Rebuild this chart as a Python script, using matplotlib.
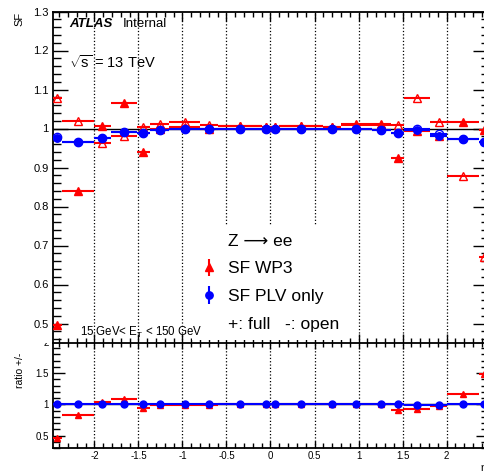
import numpy as np
import matplotlib
matplotlib.use('Agg')
import matplotlib.pyplot as plt
from matplotlib.ticker import MultipleLocator, FormatStrFormatter
from matplotlib.lines import Line2D
from matplotlib.patches import Rectangle

plt.rcParams['font.family'] = ['Liberation Sans', 'DejaVu Sans']
plt.rcParams['mathtext.fontset'] = 'custom'
plt.rcParams['mathtext.rm'] = 'Liberation Sans'
plt.rcParams['mathtext.it'] = 'Liberation Sans:italic'
plt.rcParams['axes.unicode_minus'] = False

# eta binning
eta_edges = [-2.47, -2.37, -2.01, -1.81, -1.52, -1.37, -1.15, -0.8, -0.6, -0.1, 0.0,
             0.1, 0.6, 0.8, 1.15, 1.37, 1.52, 1.81, 2.01, 2.37, 2.47]

# SF WP3 (red)  full = "+", open = "-"
wp3_full = [0.497, 0.841, 1.006, 1.066, 0.939, 1.000, 1.003, 1.000, 1.006, 1.003,
            1.003, 1.006, 1.005, 1.012, 1.012, 0.925, 0.993, 0.982, 1.016, 0.995]
wp3_open = [1.077, 1.020, 0.963, 0.982, 1.003, 1.012, 1.016, 1.010, 1.006, 1.003,
            1.003, 1.006, 1.005, 1.010, 1.010, 1.010, 1.079, 1.016, 0.877, 0.670]

# SF PLV only (blue)
plv_full = [0.975, 0.965, 0.976, 0.991, 0.988, 0.995, 0.999, 1.000, 1.000, 1.000,
            1.000, 1.000, 1.000, 1.000, 0.995, 0.988, 0.995, 0.982, 0.973, 0.965]
plv_open = [0.977, 0.965, 0.976, 0.991, 0.988, 0.995, 0.999, 1.000, 1.000, 1.000,
            1.000, 1.000, 1.000, 1.000, 0.995, 0.988, 1.000, 0.987, 0.973, 0.965]

edges = np.array(eta_edges)
centers = 0.5 * (edges[1:] + edges[:-1])
halfw = 0.5 * (edges[1:] - edges[:-1])

ratio_wp3 = np.array(wp3_full) / np.array(wp3_open)
ratio_plv = np.array(plv_full) / np.array(plv_open)

W, H = 485.0, 476.0
fig = plt.figure(figsize=(4.85, 4.76), dpi=100)

ax = fig.add_axes([53 / W, 1 - 343 / H, 435 / W, 331.5 / H], zorder=2)
rax = fig.add_axes([53 / W, 1 - 448 / H, 435 / W, 106 / H], zorder=0)
fig.patches.append(Rectangle((0, 1 - 343 / H), 1, 343 / H, transform=fig.transFigure,
                             facecolor='white', edgecolor='none', zorder=1))

# main pad
ax.errorbar(centers, wp3_full, xerr=halfw, fmt='^', color='red', ms=5.3,
            elinewidth=1.5, capsize=0, zorder=3)
ax.errorbar(centers, wp3_open, xerr=halfw, fmt='^', color='red', mfc='none', mec='red',
            mew=1.0, ms=6, elinewidth=1.5, capsize=0, zorder=3)
ax.errorbar(centers, plv_full, xerr=halfw, fmt='o', color='blue', ms=5.3,
            elinewidth=1.5, capsize=0, zorder=4)
ax.errorbar(centers, plv_open, xerr=halfw, fmt='o', color='blue', mfc='none', mec='blue',
            mew=1.0, ms=6, elinewidth=1.5, capsize=0, zorder=4)
ax.axhline(1.0, color='black', lw=1.0, zorder=2)

ax.set_xlim(-2.47, 2.47)
ax.set_ylim(0.45, 1.3)
ax.xaxis.set_major_locator(MultipleLocator(0.5))
ax.xaxis.set_minor_locator(MultipleLocator(0.1))
ax.yaxis.set_major_locator(MultipleLocator(0.1))
ax.yaxis.set_minor_locator(MultipleLocator(0.02))
ax.yaxis.set_major_formatter(FormatStrFormatter('%g'))
ax.grid(axis='x', which='major', linestyle=':', color='black', lw=0.9)
ax.set_axisbelow(True)
ax.tick_params(which='both', direction='in', top=True, right=True, labelbottom=False, width=1.0)
ax.tick_params(axis='y', which='major', length=10.8, labelsize=8, pad=3)
ax.tick_params(axis='y', which='minor', length=5.4)
ax.tick_params(axis='x', which='major', length=6.5)
ax.tick_params(axis='x', which='minor', length=3.3)
for s in ax.spines.values():
    s.set_linewidth(1.3)

# legend
h_head = Line2D([], [], linestyle='none')
h_wp3 = ax.errorbar([], [], yerr=[], fmt='^', color='red', ms=5.3, elinewidth=1.5, capsize=0)
h_plv = ax.errorbar([], [], yerr=[], fmt='o', color='blue', ms=5.3, elinewidth=1.5, capsize=0)
leg = ax.legend([h_head, h_wp3, h_plv, h_head],
                ['Z \u27f6 ee', 'SF WP3', 'SF PLV only', '+: full   -: open'],
                loc='upper left', bbox_to_anchor=(0.3184, 0.356), borderaxespad=0,
                fontsize=12.5, handlelength=1.0, handletextpad=0.6, labelspacing=0.72,
                borderpad=0.5, numpoints=1, frameon=True, fancybox=False,
                facecolor='white', edgecolor='none', framealpha=1.0)

# ratio pad
rax.errorbar(centers, ratio_wp3, xerr=halfw, fmt='^', color='red', ms=5,
             elinewidth=1.5, capsize=0, zorder=3)
rax.axhline(1.0, color='black', lw=1.0, zorder=2)
rax.errorbar(centers, ratio_plv, xerr=halfw, fmt='o', color='blue', ms=5,
             elinewidth=1.5, capsize=0, zorder=4)
rax.set_xlim(-2.47, 2.47)
rax.set_ylim(0.3, 2.0)
rax.xaxis.set_major_locator(MultipleLocator(0.5))
rax.xaxis.set_minor_locator(MultipleLocator(0.1))
rax.yaxis.set_major_locator(MultipleLocator(0.5))
rax.yaxis.set_minor_locator(MultipleLocator(0.1))
rax.xaxis.set_major_formatter(FormatStrFormatter('%g'))
rax.yaxis.set_major_formatter(FormatStrFormatter('%g'))
rax.grid(axis='x', which='major', linestyle=':', color='black', lw=0.9)
rax.set_axisbelow(True)
rax.tick_params(which='both', direction='in', top=True, right=True, width=1.0)
rax.tick_params(axis='y', which='major', length=8.6, labelsize=7, pad=3)
rax.tick_params(axis='y', which='minor', length=5)
rax.tick_params(axis='x', which='major', length=5, labelsize=7, pad=2)
rax.tick_params(axis='x', which='minor', length=3.3)
for s in rax.spines.values():
    s.set_linewidth(1.3)

# texts
fig.text(69 / W, 1 - 24 / H, 'ATLAS', weight='bold', style='italic', size=9.5, va='center')
fig.text(123 / W, 1 - 24 / H, 'Internal', size=9.5, va='center')
fig.text(69 / W, 1 - 62 / H, r'$\sqrt{\mathrm{s}}$ = 13 TeV', size=10.5, va='center')
fig.text(80 / W, 1 - 332 / H, r'15 GeV< E$_{\mathrm{T}}$ < 150 GeV', size=8.3, va='center', zorder=3)
fig.text(19 / W, 1 - 12 / H, 'SF', rotation=90, ha='center', va='top', size=8)
fig.text(20 / W, 1 - 353 / H, 'ratio +/-', rotation=90, ha='center', va='top', size=7.5)
fig.text(487 / W, 1 - 468 / H, '\u03b7', ha='right', va='center', size=8)

fig.savefig('out.png', dpi=100)
